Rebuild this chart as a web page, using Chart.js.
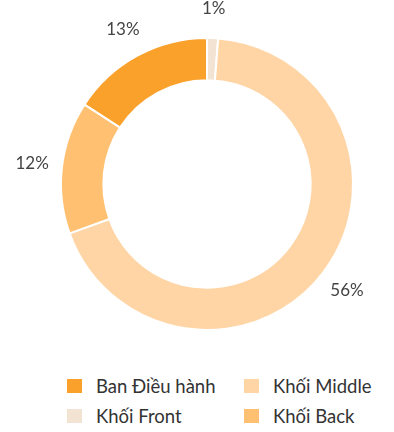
<!DOCTYPE html>
<html>
<head>
<meta charset="utf-8">
<script src="https://cdn.jsdelivr.net/npm/chart.js@4.4.1/dist/chart.umd.min.js"></script>
<style>
  body { margin: 0; background: #fff; font-family: Lato, "Noto Sans", sans-serif; }
  #wrap { position: relative; width: 394px; height: 432px; }
  #chart-box { position: absolute; left: 0; top: 0; width: 394px; height: 350px; }
  #legend {
    position: absolute; left: 67px; top: 371px;
    display: grid;
    grid-template-rows: 30px 30px;
    grid-template-columns: 177px 140px;
    grid-auto-flow: column;
  }
  #legend .item { display: flex; align-items: center; font-size: 18.5px; color: #333; white-space: nowrap; }
  #legend .box { width: 15px; height: 14px; margin-right: 14px; flex: none; }
</style>
</head>
<body>
<div id="wrap">
  <div id="chart-box"><canvas id="staffChart"></canvas></div>
  <div id="legend"></div>
</div>
<script>
// Staff split by department (%)
var departments = ['Ban Điều hành', 'Khối Front', 'Khối Middle', 'Khối Back'];
var shares = [13, 1, 56, 12];
var sliceColors = ['#f9a12b', '#f3e3d2', '#ffd5a5', '#ffc071'];

var total = shares.reduce(function (a, b) { return a + b; }, 0);

// Percent labels just outside the ring, at each slice's middle angle
var outerLabels = {
  id: 'outerLabels',
  afterDatasetsDraw: function (chart) {
    var ctx = chart.ctx;
    var meta = chart.getDatasetMeta(0);
    ctx.save();
    ctx.font = '17px Lato, "Noto Sans", sans-serif';
    ctx.fillStyle = '#444';
    ctx.textAlign = 'center';
    ctx.textBaseline = 'middle';
    meta.data.forEach(function (arc, i) {
      var p = arc.getProps(['x', 'y', 'startAngle', 'endAngle', 'outerRadius'], true);
      var mid = (p.startAngle + p.endAngle) / 2;
      var r = p.outerRadius + 30;
      ctx.fillText(shares[i] + '%', p.x + Math.cos(mid) * r, p.y + Math.sin(mid) * r);
    });
    ctx.restore();
  }
};

var chart = new Chart(document.getElementById('staffChart'), {
  type: 'doughnut',
  data: {
    labels: departments,
    datasets: [{
      data: shares,
      backgroundColor: sliceColors,
      borderColor: '#fff',
      borderWidth: 2
    }]
  },
  options: {
    responsive: true,
    maintainAspectRatio: false,
    animation: false,
    cutout: '71%',
    // first slice ends at 12 o'clock
    rotation: -360 * shares[0] / total,
    layout: { padding: { left: 60, right: 40, top: 37, bottom: 19 } },
    plugins: {
      legend: { display: false },
      tooltip: { enabled: false }
    }
  },
  plugins: [outerLabels]
});

// two-column legend under the chart
var legend = document.getElementById('legend');
chart.options.plugins.legend.labels.generateLabels(chart).forEach(function (item) {
  var el = document.createElement('div');
  el.className = 'item';
  el.innerHTML = '<span class="box" style="background:' + item.fillStyle + '"></span>' + item.text;
  legend.appendChild(el);
});
</script>
</body>
</html>
